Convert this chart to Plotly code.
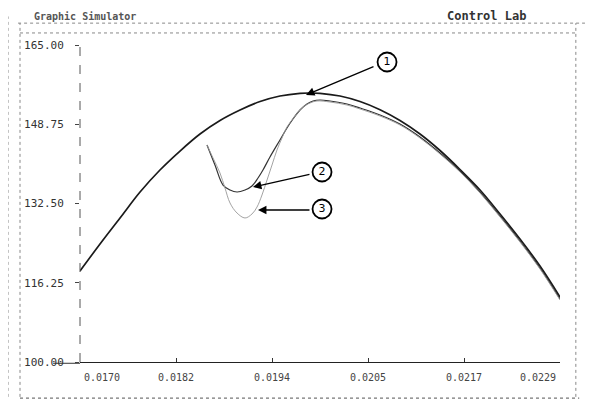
import plotly.graph_objects as go

# ---------------- data ----------------
x_curve1 = [0.017000, 0.017246, 0.017492, 0.017738, 0.017983, 0.018229, 0.018475,
            0.018721, 0.018967, 0.019213, 0.019458, 0.019704, 0.019827, 0.019950,
            0.020196, 0.020442, 0.020688, 0.020933, 0.021179, 0.021425, 0.021671,
            0.021917, 0.022163, 0.022408, 0.022654, 0.022900]
y_curve1 = [118.66, 124.20, 129.53, 134.86, 139.37, 143.26, 146.75, 149.52, 151.67,
            153.41, 154.54, 155.10, 155.16, 155.10, 154.54, 153.41, 151.73, 149.52,
            146.75, 143.37, 139.47, 135.27, 130.35, 125.22, 119.68, 113.33]

x_curve2 = [0.018561, 0.018659, 0.018758, 0.018844, 0.018930, 0.019028, 0.019114,
            0.019188, 0.019249, 0.019335, 0.019458, 0.019544, 0.019618, 0.019704,
            0.019790, 0.019864, 0.019950, 0.020073, 0.020282, 0.020442, 0.020688,
            0.020933, 0.021179, 0.021425, 0.021671, 0.021917, 0.022163, 0.022408,
            0.022654, 0.022900]
y_curve2 = [144.49, 140.39, 136.29, 135.27, 134.86, 135.27, 136.09, 137.73, 139.37,
            142.03, 145.52, 147.98, 149.83, 151.67, 152.90, 153.52, 153.72, 153.52,
            152.90, 152.08, 150.65, 148.80, 146.14, 142.85, 139.16, 134.86, 129.94,
            124.81, 119.27, 112.92]

x_curve3 = [0.018561, 0.018635, 0.018721, 0.018782, 0.018844, 0.018930, 0.019028,
            0.019114, 0.019176, 0.019237, 0.019299, 0.019360, 0.019421, 0.019483,
            0.019544, 0.019643, 0.019741, 0.019827, 0.019913, 0.020073, 0.020282,
            0.020442, 0.020688, 0.020933, 0.021179, 0.021425, 0.021671, 0.021917,
            0.022163, 0.022408, 0.022654, 0.022900]
y_curve3 = [144.49, 141.83, 138.75, 135.68, 132.60, 130.55, 129.53, 130.35, 131.78,
            134.24, 137.32, 140.39, 143.47, 145.93, 148.19, 150.44, 152.29, 153.11,
            153.52, 153.31, 152.70, 151.88, 150.44, 148.60, 145.93, 142.65, 138.96,
            134.65, 129.73, 124.61, 119.07, 112.71]

y_tickvals = [100.0, 116.25, 132.5, 148.75, 165.0]
y_ticktext = ["100.00", "116.25", "132.50", "148.75", "165.00"]
x_tickvals = [0.0170, 0.01818, 0.01936, 0.02054, 0.02172, 0.0229]
x_ticktext = ["0.0170", "0.0182", "0.0194", "0.0205", "0.0217", "0.0229"]

callout_labels = ["1", "2", "3"]
callout_pos = [(0.020774, 161.51), (0.019975, 138.96), (0.019975, 131.37)]
arrow_tail = [(0.020626, 160.69), (0.019839, 138.55), (0.019839, 131.17)]
arrow_head = [(0.019778, 154.75), (0.019126, 135.88), (0.019188, 131.17)]

FONT = "DejaVu Sans Mono"

fig = go.Figure()
fig.add_trace(go.Scatter(x=x_curve1, y=y_curve1, mode="lines",
                         line=dict(color="#1a1a1a", width=1.7, shape="spline"),
                         showlegend=False, hoverinfo="skip"))
fig.add_trace(go.Scatter(x=x_curve2, y=y_curve2, mode="lines",
                         line=dict(color="#333333", width=1.2, shape="spline"),
                         showlegend=False, hoverinfo="skip"))
fig.add_trace(go.Scatter(x=x_curve3, y=y_curve3, mode="lines",
                         line=dict(color="#999999", width=0.9, shape="spline"),
                         showlegend=False, hoverinfo="skip"))

# callout circles
fig.add_trace(go.Scatter(
    x=[p[0] for p in callout_pos], y=[p[1] for p in callout_pos],
    mode="markers+text", text=callout_labels, textposition="middle center",
    textfont=dict(family="DejaVu Sans", size=11, color="black"),
    marker=dict(symbol="circle-open", size=19, color="black", line=dict(width=1.8)),
    showlegend=False, hoverinfo="skip"))

annotations = []
for (tx, ty), (hx, hy) in zip(arrow_tail, arrow_head):
    annotations.append(dict(x=hx, y=hy, ax=tx, ay=ty, xref="x", yref="y",
                            axref="x", ayref="y", text="", showarrow=True,
                            arrowhead=2, arrowsize=1.3, arrowwidth=1.3,
                            arrowcolor="black"))

# x tick labels (first left-aligned, last right-aligned)
for i, (v, t) in enumerate(zip(x_tickvals, x_ticktext)):
    anchor = "left" if i == 0 else ("right" if i == len(x_tickvals) - 1 else "center")
    annotations.append(dict(x=v, y=-0.05, xref="x", yref="paper", text=t,
                            showarrow=False, xanchor=anchor, yanchor="middle",
                            xshift=2 if i == 0 else (-2 if anchor == "right" else 0),
                            font=dict(family=FONT, size=10, color="#444")))

annotations.append(dict(x=-0.10, y=1.09, xref="paper", yref="paper",
                        text="<b>Graphic Simulator</b>", showarrow=False, xanchor="left",
                        yanchor="middle", font=dict(family=FONT, size=10, color="#555")))
annotations.append(dict(x=0.76, y=1.09, xref="paper", yref="paper",
                        text="<b>Control Lab</b>", showarrow=False, xanchor="left",
                        yanchor="middle", font=dict(family=FONT, size=12, color="#333")))

dot = dict(color="#888", width=1, dash="dot")
shapes = [
    # frame
    dict(type="line", xref="paper", yref="paper", x0=-0.129, x1=1.052, y0=1.069, y1=1.069, line=dot),
    dict(type="line", xref="paper", yref="paper", x0=-0.125, x1=1.033, y0=1.038, y1=1.038, line=dot),
    dict(type="line", xref="paper", yref="paper", x0=-0.150, x1=-0.150, y0=-0.11, y1=1.09, line=dot),
    dict(type="line", xref="paper", yref="paper", x0=-0.125, x1=-0.125, y0=-0.11, y1=1.069, line=dot),
    dict(type="line", xref="paper", yref="paper", x0=1.033, x1=1.033, y0=-0.11, y1=1.069, line=dot),
    dict(type="line", xref="paper", yref="paper", x0=1.058, x1=1.058, y0=-0.12, y1=1.09, line=dot),
    dict(type="line", xref="paper", yref="paper", x0=-0.125, x1=1.04, y0=-0.114, y1=-0.114,
         line=dict(color="#777", width=1.2, dash="dot")),
    # dashed y axis
    dict(type="line", xref="paper", yref="paper", x0=0, x1=0, y0=0, y1=1.02,
         line=dict(color="#555", width=1, dash="dash")),
    # underline of 100.00 label
    dict(type="line", xref="paper", yref="paper", x0=-0.056, x1=0, y0=-0.004, y1=-0.004,
         line=dict(color="#333", width=1)),
]

# page body has an 8px default margin -> figure shrunk/offset to keep plot area at 80..560 / 45..362
fig.update_layout(
    width=587, height=403,
    margin=dict(l=72, r=35, t=37, b=49),
    paper_bgcolor="white", plot_bgcolor="white",
    annotations=annotations, shapes=shapes,
    xaxis=dict(range=[0.0170, 0.0229], showgrid=False, zeroline=False,
               showline=True, linecolor="#222", linewidth=1,
               tickvals=x_tickvals, ticks="inside", ticklen=4,
               tickcolor="#333", showticklabels=False),
    yaxis=dict(range=[100, 165], showgrid=False, zeroline=False,
               showline=False, tickvals=y_tickvals, ticktext=y_ticktext,
               ticks="outside", ticklen=4, tickcolor="#444",
               ticklabelstandoff=9,
               tickfont=dict(family=FONT, size=11, color="#333")),
)

fig.write_html("out.html")
